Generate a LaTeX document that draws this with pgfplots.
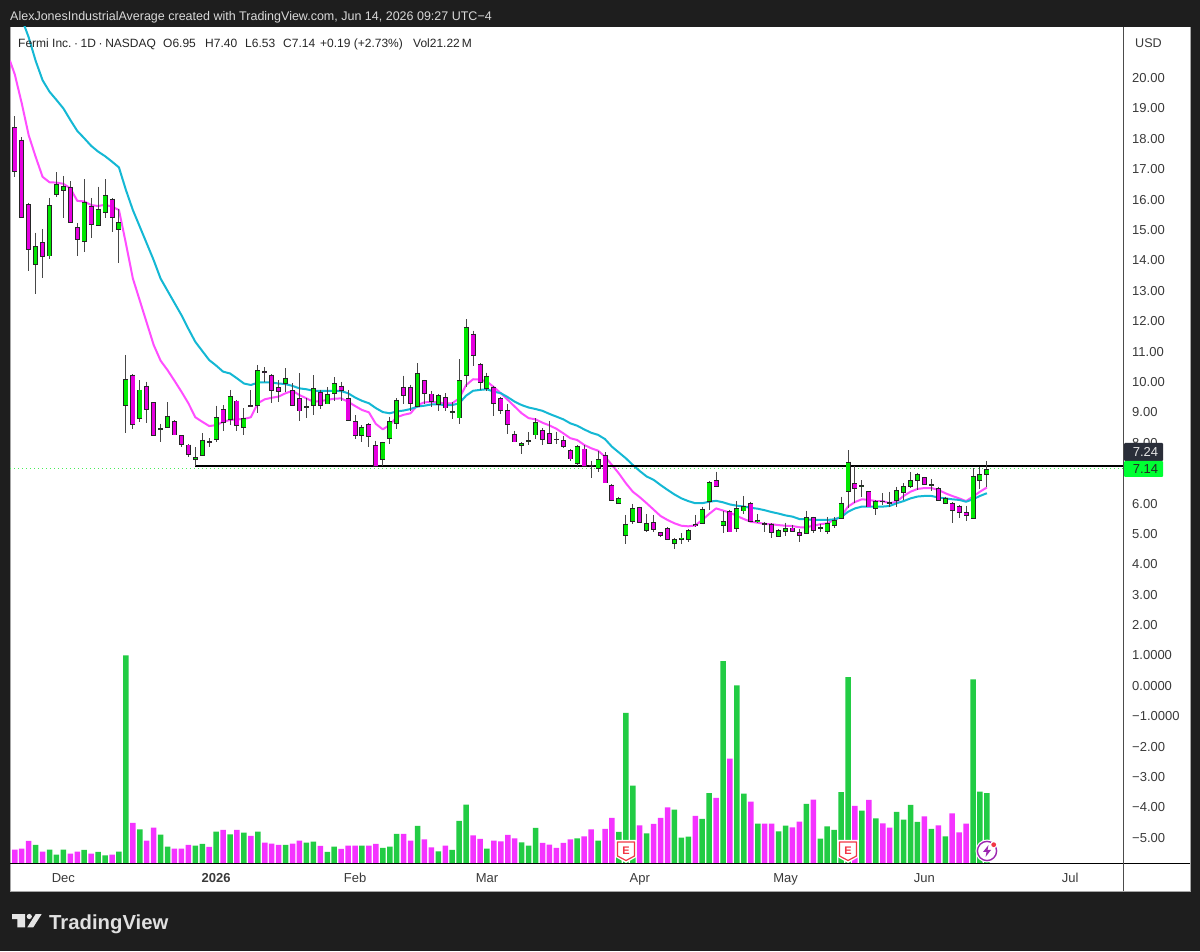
\documentclass[border=0pt]{standalone}
\usepackage{pgfplots}
\usepackage{pgfplotstable}
\usepackage{fontspec}
\setmainfont{Liberation Sans}
\pgfplotsset{compat=1.18}
\definecolor{bgdark}{HTML}{1E1E1E}
\definecolor{cgreen}{HTML}{00E600}
\definecolor{cmag}{HTML}{E600E0}
\definecolor{vgreen}{HTML}{22CC44}
\definecolor{vmag}{HTML}{F433FF}
\definecolor{mapink}{HTML}{FF4DFF}
\definecolor{macyan}{HTML}{14B8D4}
\definecolor{wick}{HTML}{484848}
\definecolor{lbl}{HTML}{3A3A3A}
\definecolor{ered}{HTML}{F23645}
\definecolor{zap}{HTML}{9C27B0}
\pgfplotstableread{
i o h l c v
3 13.85 14.91 12.90 14.45 5.7
5 14.14 16.06 14.04 15.80 4.3
6 16.16 16.90 16.07 16.49 2.8
7 16.30 16.78 15.38 16.44 4.3
10 14.63 16.67 14.27 15.90 4.2
12 15.15 16.43 15.15 15.68 3.6
13 15.56 16.67 15.38 16.15 2.6
15 15.02 15.68 13.93 15.25 3.7
16 9.21 10.89 8.31 10.09 62.5
18 8.80 10.06 8.69 9.74 10.4
21 8.45 8.62 8.04 8.47 8.8
22 8.51 9.33 8.51 8.88 5.2
26 7.45 7.85 7.24 7.52 5.5
27 7.59 8.31 7.56 8.09 6.0
29 8.09 9.22 8.04 8.83 9.7
31 8.77 9.74 8.58 9.52 8.9
33 8.51 9.13 8.25 8.81 9.4
35 9.22 10.56 8.97 10.37 9.7
39 9.93 10.45 9.68 10.13 5.7
42 9.18 9.46 8.83 9.19 6.4
43 9.21 10.22 8.91 9.79 6.7
45 9.27 9.82 9.27 9.58 3.6
46 9.63 10.15 9.38 9.95 5.2
50 8.24 8.58 8.04 8.51 5.5
53 7.43 8.04 7.24 8.00 4.8
54 8.15 8.86 7.95 8.69 5.2
55 8.64 9.46 8.45 9.40 9.0
58 9.19 10.62 9.17 10.29 11.4
61 9.24 9.61 9.03 9.55 3.8
63 9.02 9.33 8.77 9.03 4.2
64 8.81 10.75 8.62 10.05 12.9
65 10.21 12.06 9.85 11.80 17.8
68 9.77 10.31 9.71 10.20 4.6
73 7.90 8.02 7.62 7.97 6.5
74 8.07 8.34 7.93 8.08 5.5
75 8.25 8.81 8.13 8.67 10.8
81 7.30 7.93 7.24 7.89 7.7
84 7.15 7.73 7.03 7.46 7.0
87 6.01 6.23 5.98 6.17 9.6
88 4.95 5.63 4.66 5.33 45.3
89 5.41 5.99 5.33 5.83 23.5
91 5.10 5.66 5.08 5.35 9.2
95 4.67 4.88 4.49 4.82 16.3
96 4.81 5.02 4.67 4.87 7.9
97 4.80 5.15 4.75 5.12 8.2
99 5.34 5.90 5.34 5.82 13.5
100 6.06 6.75 5.79 6.69 21.2
102 5.26 5.77 5.04 5.40 60.8
104 5.16 6.09 5.05 5.84 53.5
105 5.75 6.25 5.66 5.92 21.1
107 5.40 5.66 5.35 5.46 12.1
110 4.90 5.15 4.89 5.11 9.8
111 5.09 5.37 4.93 5.17 11.5
114 5.02 5.77 5.00 5.55 18.0
116 5.18 5.32 5.06 5.22 7.6
117 5.07 5.55 4.99 5.35 11.3
118 5.26 5.55 5.18 5.46 10.2
119 5.50 6.23 5.48 6.01 21.5
120 6.39 7.76 5.84 7.37 56.0
122 6.58 6.77 6.23 6.59 16.0
124 5.82 6.12 5.63 6.06 13.7
127 6.09 6.56 5.90 6.42 15.6
128 6.36 6.66 6.12 6.56 13.3
129 6.56 7.04 6.52 6.77 17.7
130 6.74 7.02 6.45 6.97 12.6
132 6.62 6.80 6.41 6.63 10.5
134 6.01 6.23 5.99 6.18 8.3
138 5.49 7.16 5.48 6.88 55.3
139 6.75 7.19 6.47 6.95 21.7
140 6.95 7.40 6.53 7.14 21.2
}\grntab
\pgfplotstableread{
i o h l c v
0 18.37 18.75 16.73 16.92 4.3
1 17.96 18.05 15.38 15.42 4.6
2 15.84 15.90 13.66 14.36 6.9
4 14.58 15.04 13.42 14.11 3.7
8 16.41 16.60 15.23 15.23 3.1
9 15.08 15.22 14.15 14.67 3.7
11 15.78 16.06 14.73 15.18 3.1
14 16.02 16.04 14.95 15.41 2.8
17 10.23 10.25 8.44 8.61 12.3
19 9.87 10.01 8.66 9.08 7.0
20 9.32 9.32 8.22 8.22 10.9
23 8.69 8.74 8.25 8.25 4.6
24 8.23 8.25 7.85 7.93 4.6
25 7.93 7.96 7.52 7.62 5.7
28 8.04 8.15 7.85 8.03 5.1
30 9.10 9.24 8.39 8.67 10.2
32 9.38 9.41 8.40 8.55 10.2
34 9.22 9.74 9.21 9.21 8.4
36 10.34 10.48 9.99 10.33 6.4
37 10.23 10.25 9.32 9.71 6.1
38 9.82 10.06 9.35 9.68 5.7
40 9.71 9.95 9.22 9.22 6.1
41 9.47 10.28 8.72 9.04 7.0
44 9.66 9.74 9.11 9.22 5.4
47 9.87 10.01 9.38 9.71 4.5
48 9.45 9.74 8.74 8.74 5.5
49 8.69 8.91 8.12 8.23 5.5
51 8.62 8.64 7.85 8.20 5.5
52 7.91 8.07 7.19 7.21 6.0
56 9.83 10.21 9.27 9.55 9.0
57 9.83 9.91 9.05 9.28 7.0
59 10.05 10.07 9.27 9.63 7.4
60 9.61 9.71 9.17 9.35 5.0
62 9.49 9.63 9.06 9.14 5.5
66 11.58 11.69 10.53 10.86 8.6
67 10.59 10.62 9.72 9.98 7.5
69 9.81 9.87 8.88 9.28 7.0
70 9.46 9.50 8.95 9.05 6.8
71 9.08 9.28 8.28 8.59 8.7
72 8.28 8.40 8.01 8.02 7.7
76 8.40 8.48 7.91 8.10 6.3
77 8.30 8.70 7.96 7.96 5.8
78 8.13 8.37 7.96 8.12 4.8
79 8.07 8.23 7.84 7.86 6.3
80 7.75 7.79 7.41 7.46 7.4
82 7.80 7.93 7.19 7.21 8.3
83 7.26 7.41 6.83 7.25 10.4
85 7.58 7.69 6.67 6.67 10.5
86 6.61 6.63 6.08 6.10 13.8
90 5.88 5.90 5.37 5.37 11.6
92 5.37 5.63 5.08 5.13 12.0
93 5.04 5.04 4.89 4.93 13.8
94 5.18 5.22 4.80 4.80 17.0
98 5.33 5.63 5.24 5.28 14.4
101 6.75 7.05 6.54 6.55 19.8
103 5.75 5.79 5.05 5.06 31.6
106 6.01 6.06 5.39 5.40 18.7
108 5.34 5.40 5.05 5.33 12.1
109 5.33 5.35 4.86 5.04 12.1
112 5.20 5.31 5.06 5.07 11.0
113 5.06 5.15 4.75 4.94 12.7
115 5.54 5.57 5.04 5.12 19.3
121 6.65 7.23 6.01 6.49 17.4
123 6.39 6.41 5.87 5.88 19.2
125 6.09 6.34 5.95 6.08 12.2
126 6.05 6.39 5.90 6.01 10.9
131 6.86 6.88 6.60 6.61 14.3
133 6.49 6.56 6.08 6.09 11.6
135 6.01 6.05 5.35 5.78 15.2
136 5.92 5.94 5.54 5.71 9.5
137 5.70 5.93 5.43 5.61 12.1
}\magtab
\pgfplotstableread{
i p
-0.7 20.57
0 20.12
1 19.17
2 18.12
3 17.41
4 16.75
5 16.57
6 16.56
7 16.52
8 16.37
9 15.96
10 15.94
11 15.82
12 15.79
13 15.83
14 15.77
15 15.66
16 14.56
17 13.41
18 12.68
19 11.95
20 11.22
21 10.70
22 10.39
23 10.04
24 9.68
25 9.30
26 8.84
27 8.69
28 8.55
29 8.58
30 8.69
31 8.75
32 8.77
33 8.78
34 8.84
35 9.30
36 9.43
37 9.48
38 9.52
39 9.63
40 9.71
41 9.57
42 9.46
43 9.35
44 9.37
45 9.41
46 9.45
47 9.46
48 9.35
49 9.21
50 9.08
51 9.00
52 8.62
53 8.44
54 8.59
55 8.84
56 8.92
57 8.97
58 9.24
59 9.33
60 9.34
61 9.33
62 9.29
63 9.30
64 9.46
65 9.90
66 10.09
67 10.08
68 10.01
69 9.83
70 9.63
71 9.41
72 9.19
73 8.97
74 8.81
75 8.77
76 8.66
77 8.57
78 8.46
79 8.31
80 8.15
81 8.09
82 7.93
83 7.82
84 7.74
85 7.54
86 7.27
87 6.99
88 6.67
89 6.39
90 6.21
91 6.01
92 5.80
93 5.59
94 5.46
95 5.35
96 5.27
97 5.25
98 5.28
99 5.46
100 5.66
101 5.84
102 5.77
103 5.70
104 5.59
105 5.49
106 5.40
107 5.37
108 5.33
109 5.32
110 5.29
111 5.27
112 5.26
113 5.22
114 5.22
115 5.27
116 5.32
117 5.35
118 5.46
119 5.57
120 5.90
121 6.05
122 6.14
123 6.12
124 6.08
125 6.08
126 6.01
127 6.06
128 6.25
129 6.39
130 6.48
131 6.51
132 6.51
133 6.45
134 6.34
135 6.25
136 6.17
137 6.08
138 6.23
139 6.39
140 6.53
}\pinkma
\pgfplotstableread{
i p
0 22.79
1 21.96
2 21.34
3 20.57
4 19.93
5 19.55
6 19.28
7 19.00
8 18.62
9 18.26
10 18.02
11 17.77
12 17.58
13 17.43
14 17.25
15 17.06
16 16.32
17 15.66
18 15.11
19 14.56
20 14.01
21 13.40
22 13.00
23 12.60
24 12.20
25 11.75
26 11.32
27 11.02
28 10.72
29 10.54
30 10.34
31 10.28
32 10.12
33 9.95
34 9.90
35 9.98
36 9.99
37 9.98
38 9.95
39 9.93
40 9.87
41 9.79
42 9.76
43 9.71
44 9.71
45 9.71
46 9.71
47 9.70
48 9.63
49 9.49
50 9.38
51 9.30
52 9.14
53 9.01
54 8.97
55 9.03
56 9.06
57 9.11
58 9.19
59 9.22
60 9.26
61 9.26
62 9.24
63 9.24
64 9.30
65 9.55
66 9.71
67 9.74
68 9.76
69 9.68
70 9.63
71 9.50
72 9.35
73 9.24
74 9.16
75 9.11
76 9.05
77 8.95
78 8.86
79 8.77
80 8.64
81 8.56
82 8.44
83 8.33
84 8.26
85 8.12
86 7.87
87 7.68
88 7.49
89 7.27
90 7.07
91 6.89
92 6.78
93 6.61
94 6.45
95 6.30
96 6.17
97 6.08
98 6.01
99 6.01
100 6.06
101 6.09
102 6.04
103 5.97
104 5.93
105 5.90
106 5.86
107 5.83
108 5.78
109 5.72
110 5.67
111 5.61
112 5.57
113 5.49
114 5.48
115 5.46
116 5.46
117 5.46
118 5.48
119 5.55
120 5.73
121 5.84
122 5.90
123 5.90
124 5.90
125 5.90
126 5.92
127 6.01
128 6.08
129 6.17
130 6.23
131 6.25
132 6.25
133 6.20
134 6.17
135 6.14
136 6.12
137 6.06
138 6.14
139 6.25
140 6.34
}\cyanma
\newcommand{\wicks}[1]{\addplot[draw=none, no markers, forget plot,
   error bars/.cd, y dir=minus, y explicit, error mark=none,
   error bar style={line width=1pt, draw=wick, solid}]
   table[x=i, y=h, y error minus expr={\thisrow{h}-\thisrow{l}}] {#1};}
\newcommand{\candlebody}[4]{%
  \addplot[draw=none, no markers, forget plot,
   error bars/.cd, y dir=minus, y explicit, error mark=none,
   error bar style={line width=5pt, draw=black!85, solid}]
   table[x=i, y expr={\thisrow{#2}+0.01}, y error minus expr={max(\thisrow{#2}-\thisrow{#3}+0.02,0.05)}] {#1};
  \addplot[draw=none, no markers, forget plot,
   error bars/.cd, y dir=minus, y explicit, error mark=none,
   error bar style={line width=3.5pt, draw=#4, solid}]
   table[x=i, y expr={\thisrow{#2}-0.02}, y error minus expr={max(\thisrow{#2}-\thisrow{#3}-0.04,0.0001)}] {#1};}
\newcommand{\lgnd}[2]{\node[anchor=base west,inner sep=0pt,text=black!85,font=\fontsize{12}{15}\selectfont] at (#1,903.5) {#2};}
\begin{document}
\begin{tikzpicture}[x=1pt,y=1pt]
\fill[bgdark] (0,0) rectangle (1200,951);
\fill[white] (10,60) rectangle (1190,924);
\draw[black!35,line width=0.6pt] (10,60) -- (10,924);
\draw[black!35,line width=0.6pt] (10,60) -- (1190,60) -- (1190,924);
% volume pane
\begin{axis}[at={(10pt,87pt)},anchor=south west,width=1113pt,height=837pt,scale only axis,
  hide axis,xmin=-0.69,xmax=159.6,ymin=0,ymax=250.8]
\addplot[ybar,bar width=5.5pt,bar shift=0pt,fill=vgreen,draw=none] table[x=i,y=v] {\grntab};
\addplot[ybar,bar width=5.5pt,bar shift=0pt,fill=vmag,draw=none] table[x=i,y=v] {\magtab};
\end{axis}
% price pane
\begin{axis}[at={(10pt,87pt)},anchor=south west,width=1113pt,height=837pt,scale only axis,
  xmin=-0.69,xmax=159.6,ymin=-5.86,ymax=21.68,
  axis x line*=bottom,axis y line*=right,axis line style={draw=none,-},
  major tick length=0pt,
  xtick={7,29,49,68,90,111,131,152},
  xticklabels={Dec,\textbf{2026},Feb,Mar,Apr,May,Jun,Jul},
  xticklabel style={inner sep=0pt,anchor=base,yshift=-18.5pt,text=lbl,font=\fontsize{13}{15}\selectfont},
  ytick={20,19,18,17,16,15,14,13,12,11,10,9,8,6,5,4,3,2,1,0,-1,-2,-3,-4,-5},
  yticklabels={20.00,19.00,18.00,17.00,16.00,15.00,14.00,13.00,12.00,11.00,10.00,9.00,8.00,6.00,5.00,4.00,3.00,2.00,1.0000,0.0000,−1.0000,−2.00,−3.00,−4.00,−5.00},
  yticklabel style={inner sep=0pt,anchor=west,xshift=9pt,text=lbl,font=\fontsize{13}{15}\selectfont},
  ]
\addplot[mapink,line width=2pt,line join=round,forget plot] table[x=i,y=p] {\pinkma};
\addplot[macyan,line width=2pt,line join=round,forget plot] table[x=i,y=p] {\cyanma};
\addplot[color={rgb,255:red,68;green,238;blue,85},line width=1pt,dash pattern=on 1pt off 3pt,forget plot] coordinates {(-0.69,7.14) (159.6,7.14)};
\addplot[black,line width=1.6pt,forget plot] coordinates {(26,7.24) (159.6,7.24)};
\wicks{\grntab}
\wicks{\magtab}
\candlebody{\grntab}{c}{o}{cgreen}
\candlebody{\magtab}{o}{c}{cmag}
\end{axis}
% axis lines
\draw[black,line width=1pt] (10,87) -- (1190,87);
\draw[black!70,line width=1pt] (1123,60) -- (1123,924);
% price badges
\fill[rounded corners=1pt,fill={rgb,255:red,42;green,46;blue,57}] (1124,490) rectangle (1163,508);
\node[text=white!90!black,font=\fontsize{13}{15}\selectfont] at (1145.5,499) {7.24};
\fill[rounded corners=1pt,fill={rgb,255:red,0;green,255;blue,51}] (1124,474) rectangle (1163,490);
\node[text=black!85,font=\fontsize{13}{15}\selectfont] at (1145.5,482) {7.14};
% text
\node[anchor=base west,inner sep=0pt,text=white!85!black,font=\fontsize{12.5}{15}\selectfont] at (10,930.5) {AlexJonesIndustrialAverage created with TradingView.com, Jun 14, 2026 09:27 UTC−4};
\lgnd{18}{Fermi Inc.\hspace{2.6pt}·\hspace{2.6pt}1D\hspace{2.6pt}·\hspace{2.6pt}NASDAQ}
\lgnd{163}{O6.95}
\lgnd{205}{H7.40}
\lgnd{245}{L6.53}
\lgnd{283}{C7.14}
\lgnd{320}{+0.19 (+2.73\%)}
\lgnd{413}{Vol21.22\,M}
\node[anchor=base west,inner sep=0pt,text=lbl,font=\fontsize{12.6}{15}\selectfont] at (1135,903.5) {USD};
% earnings badges
\foreach \xx in {626,848}{
  \fill[white] (\xx-10.5,111) -- (\xx+10.5,111) -- (\xx+10.5,94) -- (\xx,88) -- (\xx-10.5,94) -- cycle;
  \draw[ered,line width=1.2pt,line join=round,fill=white] (\xx-8.5,109) -- (\xx+8.5,109) -- (\xx+8.5,95) -- (\xx,90.5) -- (\xx-8.5,95) -- cycle;
  \node[text=ered,font=\fontsize{11}{12}\bfseries\selectfont,inner sep=0pt] at (\xx,100.5) {E};
}
% lightning mark
\fill[white] (987,100) circle (11.5);
\draw[zap,line width=1.4pt] (987,100) circle (9.6);
\fill[zap] (988.5,106) -- (983,99) -- (986.5,99) -- (985.5,94) -- (991,101) -- (987.5,101) -- cycle;
\fill[white] (993.7,106.3) circle (3.6);
\fill[ered] (993.7,106.3) circle (2.4);
% footer logo
\fill[white!90!black] (12,37) -- (25,37) -- (25,23.7) -- (17.3,23.7) -- (17.3,32) -- (12,32) -- cycle;
\fill[white!90!black] (29.3,34.5) circle (2.6);
\fill[white!90!black] (35.7,37) -- (41.7,37) -- (33.3,23.7) -- (27.3,23.7) -- cycle;
\node[anchor=base west,inner sep=0pt,text=white!88!black,font=\fontsize{20.3}{24}\bfseries\selectfont] at (49,22) {TradingView};
\end{tikzpicture}
\end{document}
